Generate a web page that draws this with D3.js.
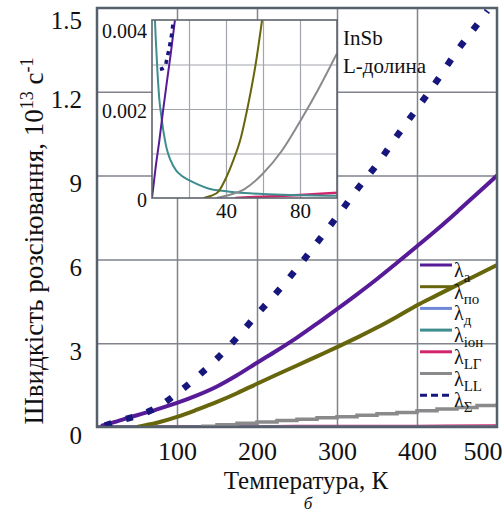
<!DOCTYPE html>
<html lang="uk">
<head>
<meta charset="UTF-8">
<script src="https://cdn.jsdelivr.net/npm/d3@7"></script>
<style>
body { margin: 0; background: #fff; }
.grid line { stroke: #80838c; stroke-width: 1.5; }
.grid path { display: none; }
.igrid line { stroke: #a2a5ac; stroke-width: 1.2; }
.igrid path { display: none; }
.ticks path { display: none; }
</style>
</head>
<body>
<div id="chart"></div>
<script>
// ---- main plot data (temperature, K ; rate, 10^13 s^-1 as printed) ----
const tempA   = [5, 25, 50, 75, 100, 125, 150, 175, 200, 225, 250, 275, 300, 325, 350, 375, 400, 425, 450, 475, 500];
const rateA   = [0.04, 0.2, 0.42, 0.63, 0.86, 1.13, 1.45, 1.85, 2.3, 2.74, 3.2, 3.7, 4.22, 4.75, 5.3, 5.88, 6.47, 7.07, 7.7, 8.35, 9.0];
const tempPo  = [50, 75, 100, 125, 150, 175, 200, 225, 250, 275, 300, 325, 350, 375, 400, 425, 450, 475, 500];
const ratePo  = [0, 0.15, 0.36, 0.62, 0.9, 1.21, 1.55, 1.88, 2.2, 2.53, 2.86, 3.2, 3.56, 3.95, 4.36, 4.72, 5.08, 5.44, 5.8];
const tempD   = [0, 100, 200, 300, 400, 500];
const rateD   = [0.01, 0.01, 0.01, 0.01, 0.01, 0.01];
const tempIon = [0, 100, 200, 300, 400, 500];
const rateIon = [0.02, 0.02, 0.02, 0.02, 0.02, 0.02];
const tempLG  = [0, 100, 200, 300, 400, 500];
const rateLG  = [0.03, 0.03, 0.03, 0.04, 0.04, 0.05];
const tempLL  = [130, 150, 175, 200, 225, 250, 275, 300, 325, 350, 375, 400, 425, 450, 475, 500];
const rateLL  = [0.03, 0.08, 0.13, 0.18, 0.23, 0.28, 0.33, 0.37, 0.42, 0.47, 0.52, 0.58, 0.64, 0.7, 0.77, 0.85];
const tempSum = [10, 25, 50, 75, 100, 125, 150, 175, 200, 225, 250, 275, 300, 325, 350, 375, 400, 425, 450, 475, 488];
const rateSum = [0.05, 0.2, 0.4, 0.7, 1.2, 1.79, 2.45, 3.2, 4.03, 4.83, 5.68, 6.6, 7.53, 8.5, 9.4, 10.42, 11.4, 12.4, 13.46, 14.4, 14.9];

// ---- inset data (low temperatures) ----
const inTempA   = [0, 2, 4, 6, 8, 10, 12.4];
const inRateA   = [0, 0.0007, 0.0013, 0.00197, 0.0026, 0.0032, 0.004];
const inTempIon = [1.6, 2, 3, 4, 5, 6, 8, 10, 13, 16, 20, 25, 30, 40, 50, 60, 75, 100];
const inRateIon = [0.004, 0.0036, 0.0028, 0.0022, 0.00185, 0.00155, 0.0011, 0.00085, 0.00062, 0.0005, 0.0004, 0.0003, 0.00022, 0.00015, 0.00011, 0.00009, 0.00007, 0.00005];
const inTempPo  = [28, 32, 36, 40, 44, 48, 52, 56, 59.5];
const inRatePo  = [0, 0.00005, 0.00015, 0.00045, 0.00085, 0.00135, 0.0021, 0.003, 0.004];
const inTempLL  = [35, 40, 50, 60, 70, 80, 90, 100];
const inRateLL  = [0, 0.00005, 0.0002, 0.00055, 0.00105, 0.00172, 0.00245, 0.00325];
const inTempLG  = [45, 60, 80, 100];
const inRateLG  = [0, 0.00003, 0.00007, 0.00012];
const inTempSum = [4.3, 7, 8, 9.7, 10.8, 11.4];
const inRateSum = [0.00289, 0.00294, 0.00312, 0.00346, 0.00373, 0.00395];

// ---- ticks / labels ----
const xTicks = [100, 200, 300, 400, 500];
const yTicks = [0, 3, 6, 9, 12, 15];
const yTickLabels = ["0", "3", "6", "9", "1.2", "1.5"];
const inXTicks = [40, 80];
const inYTicks = [0, 0.002, 0.004];
const inYTickLabels = ["0", "0.002", "0.004"];
const legendSubs = ["a", "по", "д", "іон", "LГ", "LL", "Σ"];
const inLabel = ["InSb", "L-долина"];

// colours per series (same order as legend)
const colours = ["#581b97", "#67660c", "#6f88d8", "#3e8e8f", "#d3236c", "#8a8a8c", "#16167c"];

const FONT = "\"Liberation Serif\", \"Times New Roman\", serif";
const width = 504, height = 514;
const M = { left: 97, right: 497, top: 8, bottom: 427 };
const I = { left: 152, right: 337, top: 20, bottom: 198 };

const svg = d3.select("#chart").append("svg")
  .attr("width", width).attr("height", height)
  .style("font-family", FONT);

svg.append("rect").attr("width", width).attr("height", height).attr("fill", "#fff");

const x = d3.scaleLinear().domain([0, 500]).range([M.left, M.right]);
const y = d3.scaleLinear().domain([0, 15]).range([M.bottom, M.top]);
const xi = d3.scaleLinear().domain([0, 100]).range([I.left, I.right]);
const yi = d3.scaleLinear().domain([0, 0.004]).range([I.bottom, I.top]);

const zip = (t, v) => t.map((d, i) => [d, v[i]]);

// clip paths
const defs = svg.append("defs");
defs.append("clipPath").attr("id", "clipMain").append("rect")
  .attr("x", M.left).attr("y", M.top).attr("width", M.right - M.left).attr("height", M.bottom - M.top);
defs.append("clipPath").attr("id", "clipInset").append("rect")
  .attr("x", I.left).attr("y", I.top).attr("width", I.right - I.left).attr("height", I.bottom - I.top);

// main grid
svg.append("g").attr("class", "grid")
  .attr("transform", `translate(0,${M.bottom})`)
  .call(d3.axisBottom(x).tickValues(xTicks.slice(0, -1)).tickSize(-(M.bottom - M.top)).tickFormat(""));
svg.append("g").attr("class", "grid")
  .attr("transform", `translate(${M.left},0)`)
  .call(d3.axisLeft(y).tickValues(yTicks.slice(1, -1)).tickSize(-(M.right - M.left)).tickFormat(""));

// main curves
const lineMain = d3.line().x(d => x(d[0])).y(d => y(d[1])).curve(d3.curveMonotoneX);
const stepMain = d3.line().x(d => x(d[0])).y(d => y(d[1])).curve(d3.curveStepAfter);

const mainSeries = [
  { pts: zip(tempLG, rateLG), c: 4, w: 2.5 },
  { pts: zip(tempD, rateD), c: 2, w: 2 },
  { pts: zip(tempIon, rateIon), c: 3, w: 2 },
  { pts: zip(tempLL, rateLL), c: 5, w: 3.5, step: true },
  { pts: zip(tempPo, ratePo), c: 1, w: 4 },
  { pts: zip(tempA, rateA), c: 0, w: 4 },
  { pts: zip(tempSum, rateSum), c: 6, w: 6.5, dash: "7,15" }
];

const gMain = svg.append("g").attr("clip-path", "url(#clipMain)");
gMain.selectAll("path").data(mainSeries).enter().append("path")
  .attr("d", d => (d.step ? stepMain : lineMain)(d.pts))
  .attr("fill", "none")
  .attr("stroke", d => colours[d.c])
  .attr("stroke-width", d => d.w)
  .attr("stroke-dasharray", d => d.dash || null);

// main frame
svg.append("rect")
  .attr("x", M.left).attr("y", M.top)
  .attr("width", M.right - M.left).attr("height", M.bottom - M.top)
  .attr("fill", "none").attr("stroke", "#55606c").attr("stroke-width", 2.5);

// main tick labels
const xAxis = svg.append("g").attr("class", "ticks")
  .attr("transform", `translate(0,${M.bottom})`)
  .call(d3.axisBottom(x).tickValues(xTicks).tickSize(0).tickPadding(15).tickFormat(d => d));
xAxis.selectAll(".tick").filter(d => d === 500).select("text")
  .attr("text-anchor", "end").attr("x", 5);
xAxis.attr("font-size", 26);

const yAxis = svg.append("g").attr("class", "ticks")
  .attr("transform", `translate(${M.left},0)`)
  .call(d3.axisLeft(y).tickValues(yTicks).tickSize(0).tickPadding(15).tickFormat((d, i) => yTickLabels[i]));
yAxis.selectAll("text")
  .attr("dy", null)
  .attr("y", d => Math.max(8, M.top + 12 - y(d)) + 8);
yAxis.attr("font-size", 25);

[xAxis, yAxis].forEach(g => g.attr("font-family", FONT).selectAll("text").attr("fill", "#111"));

// axis titles
const yTitle = svg.append("text")
  .attr("transform", "translate(43,241) rotate(-90)")
  .attr("text-anchor", "middle")
  .attr("fill", "#111")
  .style("font-size", "27px");
yTitle.append("tspan").text("Швидкість розсіювання, 10");
yTitle.append("tspan").attr("dy", -10).style("font-size", "18px").text("13");
yTitle.append("tspan").attr("dy", 10).text(" с");
yTitle.append("tspan").attr("dy", -10).style("font-size", "18px").text("-1");

svg.append("text")
  .attr("x", 306).attr("y", 489)
  .attr("text-anchor", "middle")
  .attr("fill", "#111")
  .style("font-size", "25px")
  .text("Температура, К");

svg.append("text")
  .attr("x", 308).attr("y", 509)
  .attr("text-anchor", "middle")
  .attr("fill", "#111")
  .style("font-size", "17px").style("font-style", "italic")
  .text("б");

// ---- inset ----
svg.append("rect")
  .attr("x", I.left).attr("y", I.top)
  .attr("width", I.right - I.left).attr("height", I.bottom - I.top)
  .attr("fill", "#fff");

svg.append("g").attr("class", "igrid")
  .attr("transform", `translate(0,${I.bottom})`)
  .call(d3.axisBottom(xi).tickValues([20, 40, 60, 80]).tickSize(-(I.bottom - I.top)).tickFormat(""));
svg.append("g").attr("class", "igrid")
  .attr("transform", `translate(${I.left},0)`)
  .call(d3.axisLeft(yi).tickValues([0.001, 0.002, 0.003]).tickSize(-(I.right - I.left)).tickFormat(""));

const lineIn = d3.line().x(d => xi(d[0])).y(d => yi(d[1])).curve(d3.curveMonotoneX);

const insetSeries = [
  { pts: zip(inTempLG, inRateLG), c: 4, w: 2.5 },
  { pts: zip(inTempIon, inRateIon), c: 3, w: 2 },
  { pts: zip(inTempLL, inRateLL), c: 5, w: 2 },
  { pts: zip(inTempPo, inRatePo), c: 1, w: 2 },
  { pts: zip(inTempA, inRateA), c: 0, w: 2 },
  { pts: zip(inTempSum, inRateSum), c: 6, w: 3.5, dash: "4,5" }
];

const gIn = svg.append("g").attr("clip-path", "url(#clipInset)");
gIn.selectAll("path").data(insetSeries).enter().append("path")
  .attr("d", d => lineIn(d.pts))
  .attr("fill", "none")
  .attr("stroke", d => colours[d.c])
  .attr("stroke-width", d => d.w)
  .attr("stroke-dasharray", d => d.dash || null);

svg.append("rect")
  .attr("x", I.left).attr("y", I.top)
  .attr("width", I.right - I.left).attr("height", I.bottom - I.top)
  .attr("fill", "none").attr("stroke", "#5e636b").attr("stroke-width", 1.6);

const ixAxis = svg.append("g").attr("class", "ticks")
  .attr("transform", `translate(0,${I.bottom})`)
  .call(d3.axisBottom(xi).tickValues(inXTicks).tickSize(0).tickPadding(5).tickFormat(d => d));
ixAxis.attr("font-size", 21);

const iyAxis = svg.append("g").attr("class", "ticks")
  .attr("transform", `translate(${I.left},0)`)
  .call(d3.axisLeft(yi).tickValues(inYTicks).tickSize(0).tickPadding(5).tickFormat((d, i) => inYTickLabels[i]));
iyAxis.selectAll("text")
  .attr("dy", null)
  .attr("y", d => Math.max(2, I.top + 11 - yi(d)) + 6);
iyAxis.attr("font-size", 20);

[ixAxis, iyAxis].forEach(g => g.attr("font-family", FONT).selectAll("text").attr("fill", "#111"));

svg.selectAll(".inlabel").data(inLabel).enter().append("text")
  .attr("class", "inlabel")
  .attr("x", 343).attr("y", (d, i) => 45 + i * 28)
  .attr("fill", "#111")
  .style("font-size", "21px")
  .text(d => d);

// ---- legend ----
const legend = svg.append("g").attr("transform", "translate(420,265)");
const rows = legend.selectAll("g").data(legendSubs).enter().append("g")
  .attr("transform", (d, i) => `translate(0,${i * 21.7})`);
rows.append("line")
  .attr("x1", 0).attr("x2", 32)
  .attr("stroke", (d, i) => colours[i])
  .attr("stroke-width", 3)
  .attr("stroke-dasharray", (d, i) => i === 6 ? "7,4" : null);
const lt = rows.append("text").attr("x", 34).attr("y", 12).attr("fill", "#111").style("font-size", "20px");
lt.append("tspan").text("λ");
lt.append("tspan").attr("dy", 5).style("font-size", "15px").text(d => d);
</script>
</body>
</html>
